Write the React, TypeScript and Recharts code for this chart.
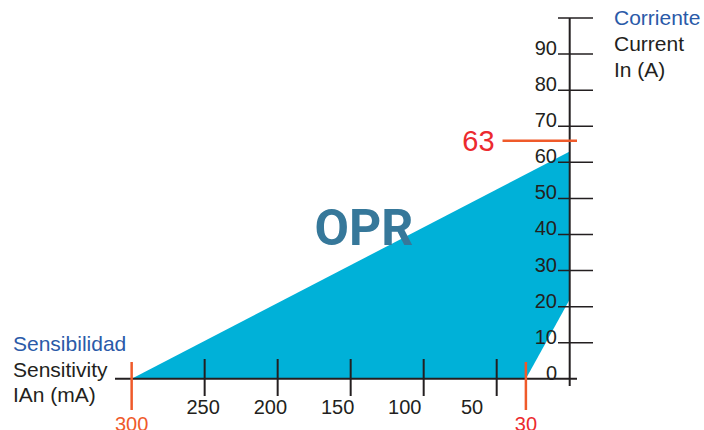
import React from 'react';
import { ComposedChart, Area, XAxis, YAxis, ReferenceLine, ReferenceDot } from 'recharts';

// OPR operating zone: upper edge from 300 mA / 0 A to 0 mA / 63 A
const OPR_TOP = [
  { x: 300, y: 0 },
  { x: 0, y: 63 },
];
// corner cut out of the zone, from 30 mA / 0 A to 0 mA / 22 A
const OPR_CUT = [
  { x: 30, y: 0 },
  { x: 0, y: 22 },
];

const SENS_TICKS = [250, 200, 150, 100, 50];
const SENS_MARKS = [300, 30];
const CURRENT_TICKS = [0, 10, 20, 30, 40, 50, 60, 70, 80, 90, 100];
const MAX_CURRENT = 63;
const MAX_CURRENT_LINE = 66;

const INK = '#231f20';
const ZONE = '#00b1d8';
const ORANGE = '#ef5a2a';
const RED = '#ec2a2e';
const BLUE = '#2a5aa8';
const FONT = '"Liberation Sans", Arial, sans-serif';

const XTick = (props: any) => {
  const { x, y, payload } = props;
  const v = payload.value;
  if (SENS_MARKS.includes(v)) {
    return (
      <g>
        <line x1={x} x2={x} y1={y - 24} y2={y + 24} stroke={ORANGE} strokeWidth={2.5} />
        <text x={x} y={y + 45} textAnchor="middle" fontSize={20} fontFamily={FONT} fill={v === 300 ? ORANGE : RED}>
          {v}
        </text>
      </g>
    );
  }
  return <line x1={x} x2={x} y1={y - 27} y2={y + 10} stroke={INK} strokeWidth={2} />;
};

const XLabel = (props: any) => {
  const { x, y, payload } = props;
  return (
    <text x={x} y={y + 14} textAnchor="middle" fontSize={20} fontFamily={FONT} fill={INK}>
      {payload.value}
    </text>
  );
};

const YTick = (props: any) => {
  const { x, y, payload } = props;
  const v = payload.value;
  return (
    <g>
      {v !== 0 && <line x1={x - 19} x2={x + 16} y1={y} y2={y} stroke={INK} strokeWidth={1.5} />}
      {v !== 100 && (
        <text x={x - 20} y={y + 1} textAnchor="end" fontSize={20} fontFamily={FONT} fill={INK}>
          {v}
        </text>
      )}
    </g>
  );
};

const textLine = { margin: 0, lineHeight: '26px', whiteSpace: 'nowrap' as const };

export default function App() {
  return (
    <div style={{ position: 'absolute', left: 0, top: 0, width: 704, height: 430, background: '#fff', overflow: 'hidden' }}>
      <ComposedChart width={704} height={430} margin={{ top: 18, right: 107, bottom: 0, left: 115 }}>
        <XAxis
          xAxisId={0}
          type="number"
          dataKey="x"
          domain={[-5, 311.4]}
          reversed
          allowDataOverflow
          ticks={[...SENS_MARKS, ...SENS_TICKS]}
          interval={0}
          height={14}
          axisLine={false}
          tickLine={false}
          tickSize={0}
          tickMargin={0}
          tick={<XTick />}
        />
        <XAxis
          xAxisId="lab"
          type="number"
          dataKey="x"
          domain={[-28.1, 315.6]}
          reversed
          allowDataOverflow
          ticks={SENS_TICKS}
          interval={0}
          height={30}
          axisLine={false}
          tickLine={false}
          tickSize={0}
          tickMargin={0}
          tick={<XLabel />}
        />
        <YAxis
          orientation="right"
          type="number"
          domain={[-2, 100]}
          allowDataOverflow
          ticks={CURRENT_TICKS}
          interval={0}
          width={20}
          axisLine={false}
          tickLine={false}
          tickSize={0}
          tickMargin={0}
          tick={<YTick />}
        />
        <Area data={OPR_TOP} dataKey="y" type="linear" baseValue={0} fill={ZONE} fillOpacity={1} stroke="none" isAnimationActive={false} />
        <Area data={OPR_CUT} dataKey="y" type="linear" baseValue={0} fill="#ffffff" fillOpacity={1} stroke="none" isAnimationActive={false} />
        <ReferenceLine y={0} stroke={INK} strokeWidth={2} />
        <ReferenceLine x={0} stroke={INK} strokeWidth={2} />
        <ReferenceLine
          segment={[{ x: 46, y: MAX_CURRENT_LINE }, { x: -5, y: MAX_CURRENT_LINE }]}
          stroke={ORANGE}
          strokeWidth={2.5}
          label={{ value: String(MAX_CURRENT), position: 'left', offset: 8, fill: RED, fontSize: 29, fontFamily: FONT }}
        />
        <ReferenceDot
          x={141}
          y={42}
          r={0}
          stroke="none"
          label={{ value: 'OPR', position: 'center', fill: '#36789a', fontSize: 50, fontWeight: 700, fontFamily: 'Roboto, sans-serif' }}
        />
      </ComposedChart>
      <div style={{ position: 'absolute', left: 614, top: 5, fontFamily: FONT, fontSize: 21 }}>
        <p style={{ ...textLine, color: BLUE }}>Corriente</p>
        <p style={{ ...textLine, color: INK }}>Current</p>
        <p style={{ ...textLine, color: INK }}>In (A)</p>
      </div>
      <div style={{ position: 'absolute', left: 13, top: 331, fontFamily: FONT, fontSize: 21 }}>
        <p style={{ ...textLine, lineHeight: '25.5px', color: BLUE }}>Sensibilidad</p>
        <p style={{ ...textLine, lineHeight: '25.5px', color: INK }}>Sensitivity</p>
        <p style={{ ...textLine, lineHeight: '25.5px', color: INK }}>IAn (mA)</p>
      </div>
    </div>
  );
}
